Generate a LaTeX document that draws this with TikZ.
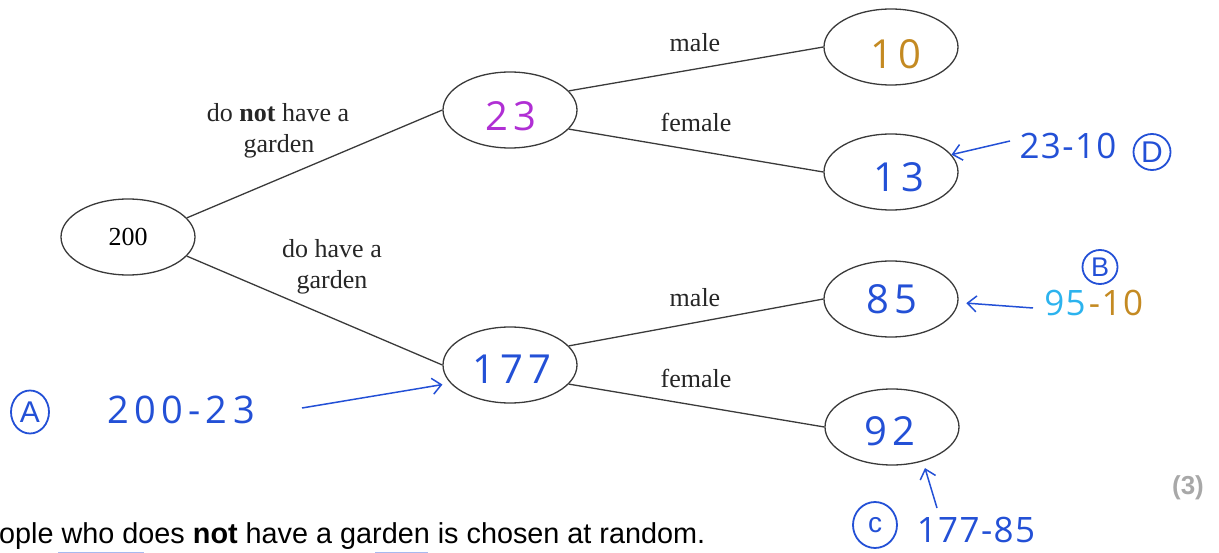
\documentclass[tikz,border=0pt]{standalone}
\usepackage{fontspec}
\setmainfont{Liberation Serif}
\newfontfamily\armfont{Liberation Sans}
\newfontfamily\handfont[LetterSpace=12]{Open Sans}
\newfontfamily\notefont[LetterSpace=4]{Open Sans}
\newfontfamily\widenote[LetterSpace=14]{Open Sans}
\usetikzlibrary{shapes.geometric,arrows.meta}
\definecolor{inkblue}{HTML}{2350D6}
\definecolor{inkmag}{HTML}{B02FD4}
\definecolor{inkgold}{HTML}{C48A22}
\definecolor{inksky}{HTML}{2CB3EE}
\definecolor{linegray}{HTML}{3A3A3A}
\definecolor{markgray}{HTML}{A8A8A8}
\tikzset{
  oval/.style={ellipse, draw=linegray, line width=1.3pt, minimum width=134pt, minimum height=76pt, inner sep=0pt},
  edge/.style={draw=linegray, line width=1.3pt},
  lbl/.style={font=\fontsize{26}{31}\selectfont, text=black!85, inner sep=0pt, anchor=base},
  hand/.style={font=\handfont\fontsize{40}{40}\selectfont, inner sep=0pt},
  note/.style={font=\notefont\fontsize{35}{35}\selectfont, text=inkblue, inner sep=0pt},
  harrow/.style={draw=inkblue, line width=1.5pt, -{Straight Barb[length=9pt,width=16pt,line width=1.5pt]}},
  ring/.style={draw=inkblue, line width=1.8pt, ellipse, inner sep=0pt, text=inkblue, font=\armfont\fontsize{30}{30}\selectfont}
}
\begin{document}
\begin{tikzpicture}[x=1pt,y=-1pt]
\useasboundingbox (0,0) rectangle (1219,553);
% tree nodes
\node[oval] (n200) at (128,237) {\fontsize{26}{26}\selectfont 200};
\node[oval] (n23) at (510,110) {};
\node[oval] (n177) at (510,365) {};
\node[oval] (n10) at (891,47) {};
\node[oval] (n13) at (891,172) {};
\node[oval] (n85) at (891,299) {};
\node[oval] (n92) at (892,427) {};
% handwritten values
\node[hand, text=inkmag] (v23) at (511,116) {23};
\node[hand, text=inkblue] (v177) at (512,369) {177};
\node[hand, text=inkgold] (v10) at (896,54) {10};
\node[hand, text=inkblue] (v13) at (899,177) {13};
\node[hand, text=inkblue] (v85) at (892,299) {85};
\node[hand, text=inkblue] (v92) at (890,431) {92};
% branches
\draw[edge] (n200.18) -- (n23.west);
\draw[edge] (n200.-18) -- (n177.west);
\draw[edge] (n23.18) -- (n10.west);
\draw[edge] (n23.-18) -- (n13.west);
\draw[edge] (n177.18) -- (n85.west);
\draw[edge] (n177.-18) -- (n92.west);
% branch labels
\node[lbl] (l1a) at (278,122) {do \textbf{not} have a};
\node[lbl] (l1b) at (279,153) {garden};
\node[lbl] (l2a) at (332,258) {do have a};
\node[lbl] (l2b) at (332,289) {garden};
\node[lbl] (l3) at (695,52) {male};
\node[lbl] (l4) at (696,132) {female};
\node[lbl] (l5) at (695,307) {male};
\node[lbl] (l6) at (696,388) {female};
% annotation D
\node[note] (tD) at (1068,146) {23-10};
\node[ring, minimum width=37pt, minimum height=36pt] (cD) at (1152,152) {D};
\coordinate (sD) at (1010,141);
\draw[harrow] (sD) -- (n13.16);
% annotation B
\node[ring, minimum width=35pt, minimum height=34pt, font=\armfont\fontsize{27}{27}\selectfont] (cB) at (1100,267) {B};
\node[note, text=inksky] (t95) at (1065,303) {95};
\node[note, text=inkgold] (t10) at (1116,303) {-10};
\coordinate (sB) at (1033,308);
\draw[harrow, shorten >=8pt] (sB) -- (n85.-3);
% annotation A
\node[ring, minimum width=38pt, minimum height=43pt] (cA) at (30,412) {A};
\node[font=\widenote\fontsize{38}{38}\selectfont, text=inkblue, inner sep=0pt] (tA) at (181,410) {200-23};
\coordinate (sA) at (302,408);
\draw[harrow, shorten >=8pt] (sA) -- (n177.197);
% annotation C
\node[ring, minimum width=44pt, minimum height=46pt, font=\armfont\fontsize{28}{28}\selectfont] (cC) at (875,525) {c};
\node[note] (tC) at (976,530) {177-85};
\coordinate (sC) at (937,508);
\draw[harrow, shorten >=7pt] (sC) -- (n92.-48);
% marks
\node[font=\armfont\bfseries\fontsize{26}{26}\selectfont, text=markgray, inner sep=0pt] (m3) at (1188,488) {(3)};
\node[font=\armfont\fontsize{28.8}{30}\selectfont, anchor=base west, inner sep=0pt] (q) at (-1,543) {ople who does \textbf{not} have a garden is chosen at random.};
\draw[inkblue!40, line width=1pt] (58,552.5) -- (144,552.5);
\draw[inkblue!40, line width=1pt] (375,552.5) -- (428,552.5);
\end{tikzpicture}
\end{document}
